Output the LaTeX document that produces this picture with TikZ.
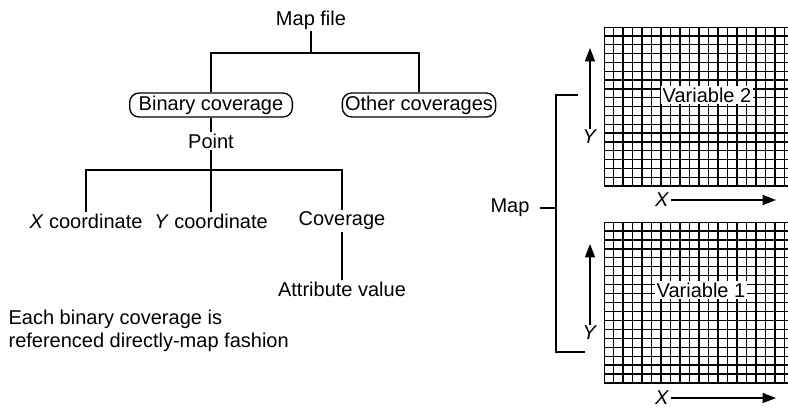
\documentclass[tikz,border=0pt]{standalone}
\usepackage{fontspec}
\setmainfont{Liberation Sans}
\usetikzlibrary{arrows.meta}

\tikzset{
  lbl/.style={font=\fontsize{15}{17.5}\selectfont, inner sep=1pt},
  covbox/.style={lbl, draw, line width=1pt, rounded corners=7pt, minimum height=18pt},
  link/.style={line width=1pt},
  axis/.style={line width=1pt, -{Triangle[length=10pt,width=7.5pt]}},
  gridline/.style={line width=1pt}
}

\begin{document}
\begin{tikzpicture}[x=0.75pt,y=-0.75pt]
  \useasboundingbox (0,0) rectangle (788,407);

  % tree of the binary coverage
  \node[lbl] (mapfile) at (311,20) {Map file};
  \node[covbox, minimum width=122pt] (binary) at (211,105) {Binary coverage};
  \node[covbox, minimum width=115pt] (other) at (419,105) {Other coverages};
  \node[lbl] (point) at (211,141) {Point};
  \node[lbl] (xcoord) at (86,221) {\textit{X} coordinate};
  \node[lbl] (ycoord) at (211,221) {\textit{Y} coordinate};
  \node[lbl] (cov) at (342,221) {Coverage};
  \node[lbl] (attr) at (342,289) {Attribute value};
  \node[lbl, anchor=west, align=left] (note) at (7,331)
    {Each binary coverage is\\referenced directly-map fashion};

  \coordinate (topbar) at (0,53);
  \coordinate (pointbar) at (0,170);

  \draw[link] (mapfile.south) -- (mapfile.south |- topbar);
  \draw[link] (binary.north) |- (other.north |- topbar) -- (other.north);
  \draw[link] (binary.south) -- (point.north);
  \draw[link] (point.south) -- (ycoord.north);
  \draw[link] (xcoord.north) |- (cov.north |- pointbar) -- (cov.north);
  \draw[link] (cov.south) -- (attr.north);

  % the two map layers
  \foreach \gtop/\gbot in {27/186, 222/383} {
    \begin{scope}
      \clip (604,\gtop) rectangle (788,\gbot);
      \foreach \gx in {0,...,20}
        \draw[gridline] ({604+\gx*9.5},\gtop) -- ({604+\gx*9.5},\gbot);
      \foreach \gy in {0,...,18}
        \draw[gridline] (604,{\gtop+\gy*(\gbot-\gtop)/18}) -- (788,{\gtop+\gy*(\gbot-\gtop)/18});
    \end{scope}
  }

  \node[lbl, fill=white] (var2) at (707,95) {Variable 2};
  \node[lbl, fill=white] (var1) at (701,290) {Variable 1};

  % axes
  \node[lbl] (y2) at (590,137) {\textit{Y}};
  \node[lbl] (x2) at (662,200) {\textit{X}};
  \node[lbl] (y1) at (590,333) {\textit{Y}};
  \node[lbl] (x1) at (662,398) {\textit{X}};
  \coordinate (y2tip) at (590,48);
  \coordinate (x2tip) at (776,200);
  \coordinate (y1tip) at (590,244);
  \coordinate (x1tip) at (776,398);
  \draw[axis] (y2.north) -- (y2tip);
  \draw[axis] (x2.east) -- (x2tip);
  \draw[axis] (y1.north) -- (y1tip);
  \draw[axis] (x1.east) -- (x1tip);

  % map bracket
  \node[lbl] (map) at (510,208) {Map};
  \coordinate (brx) at (556,0);
  \coordinate (brtop) at (578,95);
  \coordinate (brbot) at (585,352);
  \draw[link] ([xshift=7pt]map.east) -- (map.east -| brx);
  \draw[link] (brtop) -- (brtop -| brx) -- (brbot -| brx) -- (brbot);
\end{tikzpicture}
\end{document}
